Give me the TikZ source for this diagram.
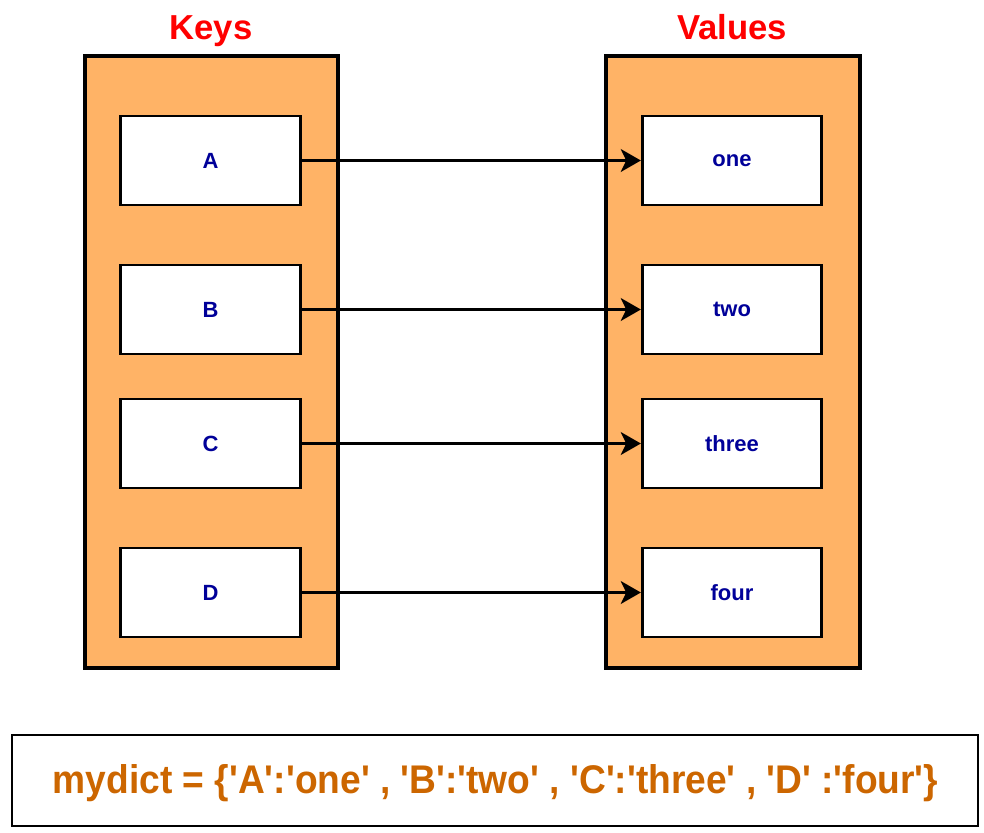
\documentclass[tikz,border=0pt]{standalone}
\usepackage{fontspec}
\setmainfont{Liberation Sans}[Ligatures=TeXOff]
\usetikzlibrary{arrows.meta}
\definecolor{boxorange}{HTML}{FFB366}
\definecolor{txtblue}{HTML}{000099}
\definecolor{dictbrown}{HTML}{CC6600}
\definecolor{titlered}{HTML}{FF0000}
\tikzset{
  outerbox/.style={draw=black, fill=boxorange, line width=3pt, minimum height=459pt, inner sep=0pt},
  itembox/.style={draw=black, fill=white, line width=2.2pt, minimum width=134.5pt, minimum height=66.75pt, inner sep=0pt,
    font=\fontsize{16.5}{18}\selectfont\bfseries, text=txtblue},
  titletext/.style={font=\fontsize{26}{30}\selectfont\bfseries, text=titlered, anchor=base, inner sep=0pt},
  link/.style={line width=2.6pt, -{Stealth[length=15pt, width=17pt, inset=4pt]}},
}
\begin{document}
\begin{tikzpicture}[x=0.75pt, y=-0.75pt]
\useasboundingbox (0,0) rectangle (984,832);
% titles
\node[titletext] (tk) at (211,39) {Keys};
\node[titletext] (tv) at (732,39) {Values};
% outer containers
\node[outerbox, minimum width=189.75pt] (ok) at (211.5,362) {};
\node[outerbox, minimum width=190.5pt] (ov) at (733,362) {};
% key boxes
\node[itembox] (kA) at (210.5,160.5) {A};
\node[itembox] (kB) at (210.5,309.5) {B};
\node[itembox] (kC) at (210.5,443.5) {C};
\node[itembox] (kD) at (210.5,592.5) {D};
% value boxes
\node[itembox] (vA) at (732,160.5) {one};
\node[itembox] (vB) at (732,309.5) {two};
\node[itembox] (vC) at (732,443.5) {three};
\node[itembox] (vD) at (732,592.5) {four};
% arrows
\draw[link] (kA.east) -- (vA.west);
\draw[link] (kB.east) -- (vB.west);
\draw[link] (kC.east) -- (vC.west);
\draw[link] (kD.east) -- (vD.west);
% bottom box
\node[draw=black, line width=2.2pt, minimum width=724.5pt, minimum height=68.25pt, inner sep=0pt] (bot) at (495,780.5) {};
\node[anchor=base, inner sep=0pt, text=dictbrown, font=\fontsize{30}{34}\selectfont\bfseries] (dict) at (495.5,793)
  {\resizebox{664pt}{\height}{mydict = \{'A':'one' , 'B':'two' , 'C':'three' , 'D' :'four'\}}};
\end{tikzpicture}
\end{document}
